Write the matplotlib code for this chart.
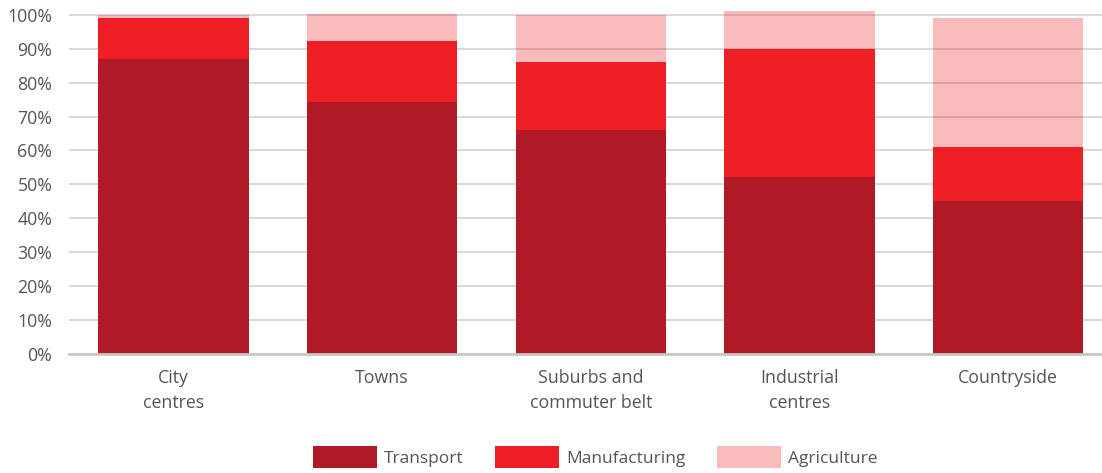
import matplotlib
matplotlib.use("Agg")
import matplotlib.pyplot as plt
import numpy as np

categories = ["City\ncentres", "Towns", "Suburbs and\ncommuter belt", "Industrial\ncentres", "Countryside"]
transport = [87.0, 74.3, 66.0, 52.2, 45.1]
manufacturing = [12.0, 17.9, 20.1, 37.7, 15.9]
agriculture = [1.0, 7.9, 13.8, 11.2, 38.0]

plt.rcParams["font.family"] = ["Open Sans", "DejaVu Sans"]

fig = plt.figure(figsize=(11.02, 4.73), dpi=100)
ax = fig.add_axes([69 / 1102, 119 / 473, (1102 - 69) / 1102, 346 / 473])

x = np.arange(len(categories))
w = 0.72
bottom2 = np.array(transport) + np.array(manufacturing)
ax.bar(x, transport, w, color="#B01926", label="Transport", zorder=2)
ax.bar(x, manufacturing, w, bottom=transport, color="#EE1F24", label="Manufacturing", zorder=2)
ax.bar(x, agriculture, w, bottom=bottom2, color="#EE1F24", alpha=0.3, label="Agriculture", zorder=2)

ax.set_xlim(-0.5, 4.449)
ax.set_ylim(0, 102)
ax.set_yticks(range(0, 101, 10))
ax.set_yticklabels([f"{v}%" for v in range(0, 101, 10)])
ax.yaxis.grid(True, color="#D2D2D2", linewidth=1.2, zorder=0)
ax.set_axisbelow(True)
ax.set_xticks(x)
ax.set_xticklabels(categories, linespacing=1.45)
for s in ["top", "right", "left"]:
    ax.spines[s].set_visible(False)
ax.spines["bottom"].set_color("#C8C8C8")
ax.spines["bottom"].set_linewidth(2)
ax.tick_params(axis="both", length=0, labelsize=12.8, colors="#555555")
ax.tick_params(axis="y", pad=12)
ax.tick_params(axis="x", pad=11)

fig.legend(loc="center", bbox_to_anchor=(595 / 1102, 16 / 473), ncol=3, frameon=False,
           fontsize=12.5, labelcolor="#555555", handlelength=3.7, handleheight=1.6,
           handletextpad=0.4, columnspacing=1.8, borderpad=0)

fig.savefig("out.png", dpi=100)
